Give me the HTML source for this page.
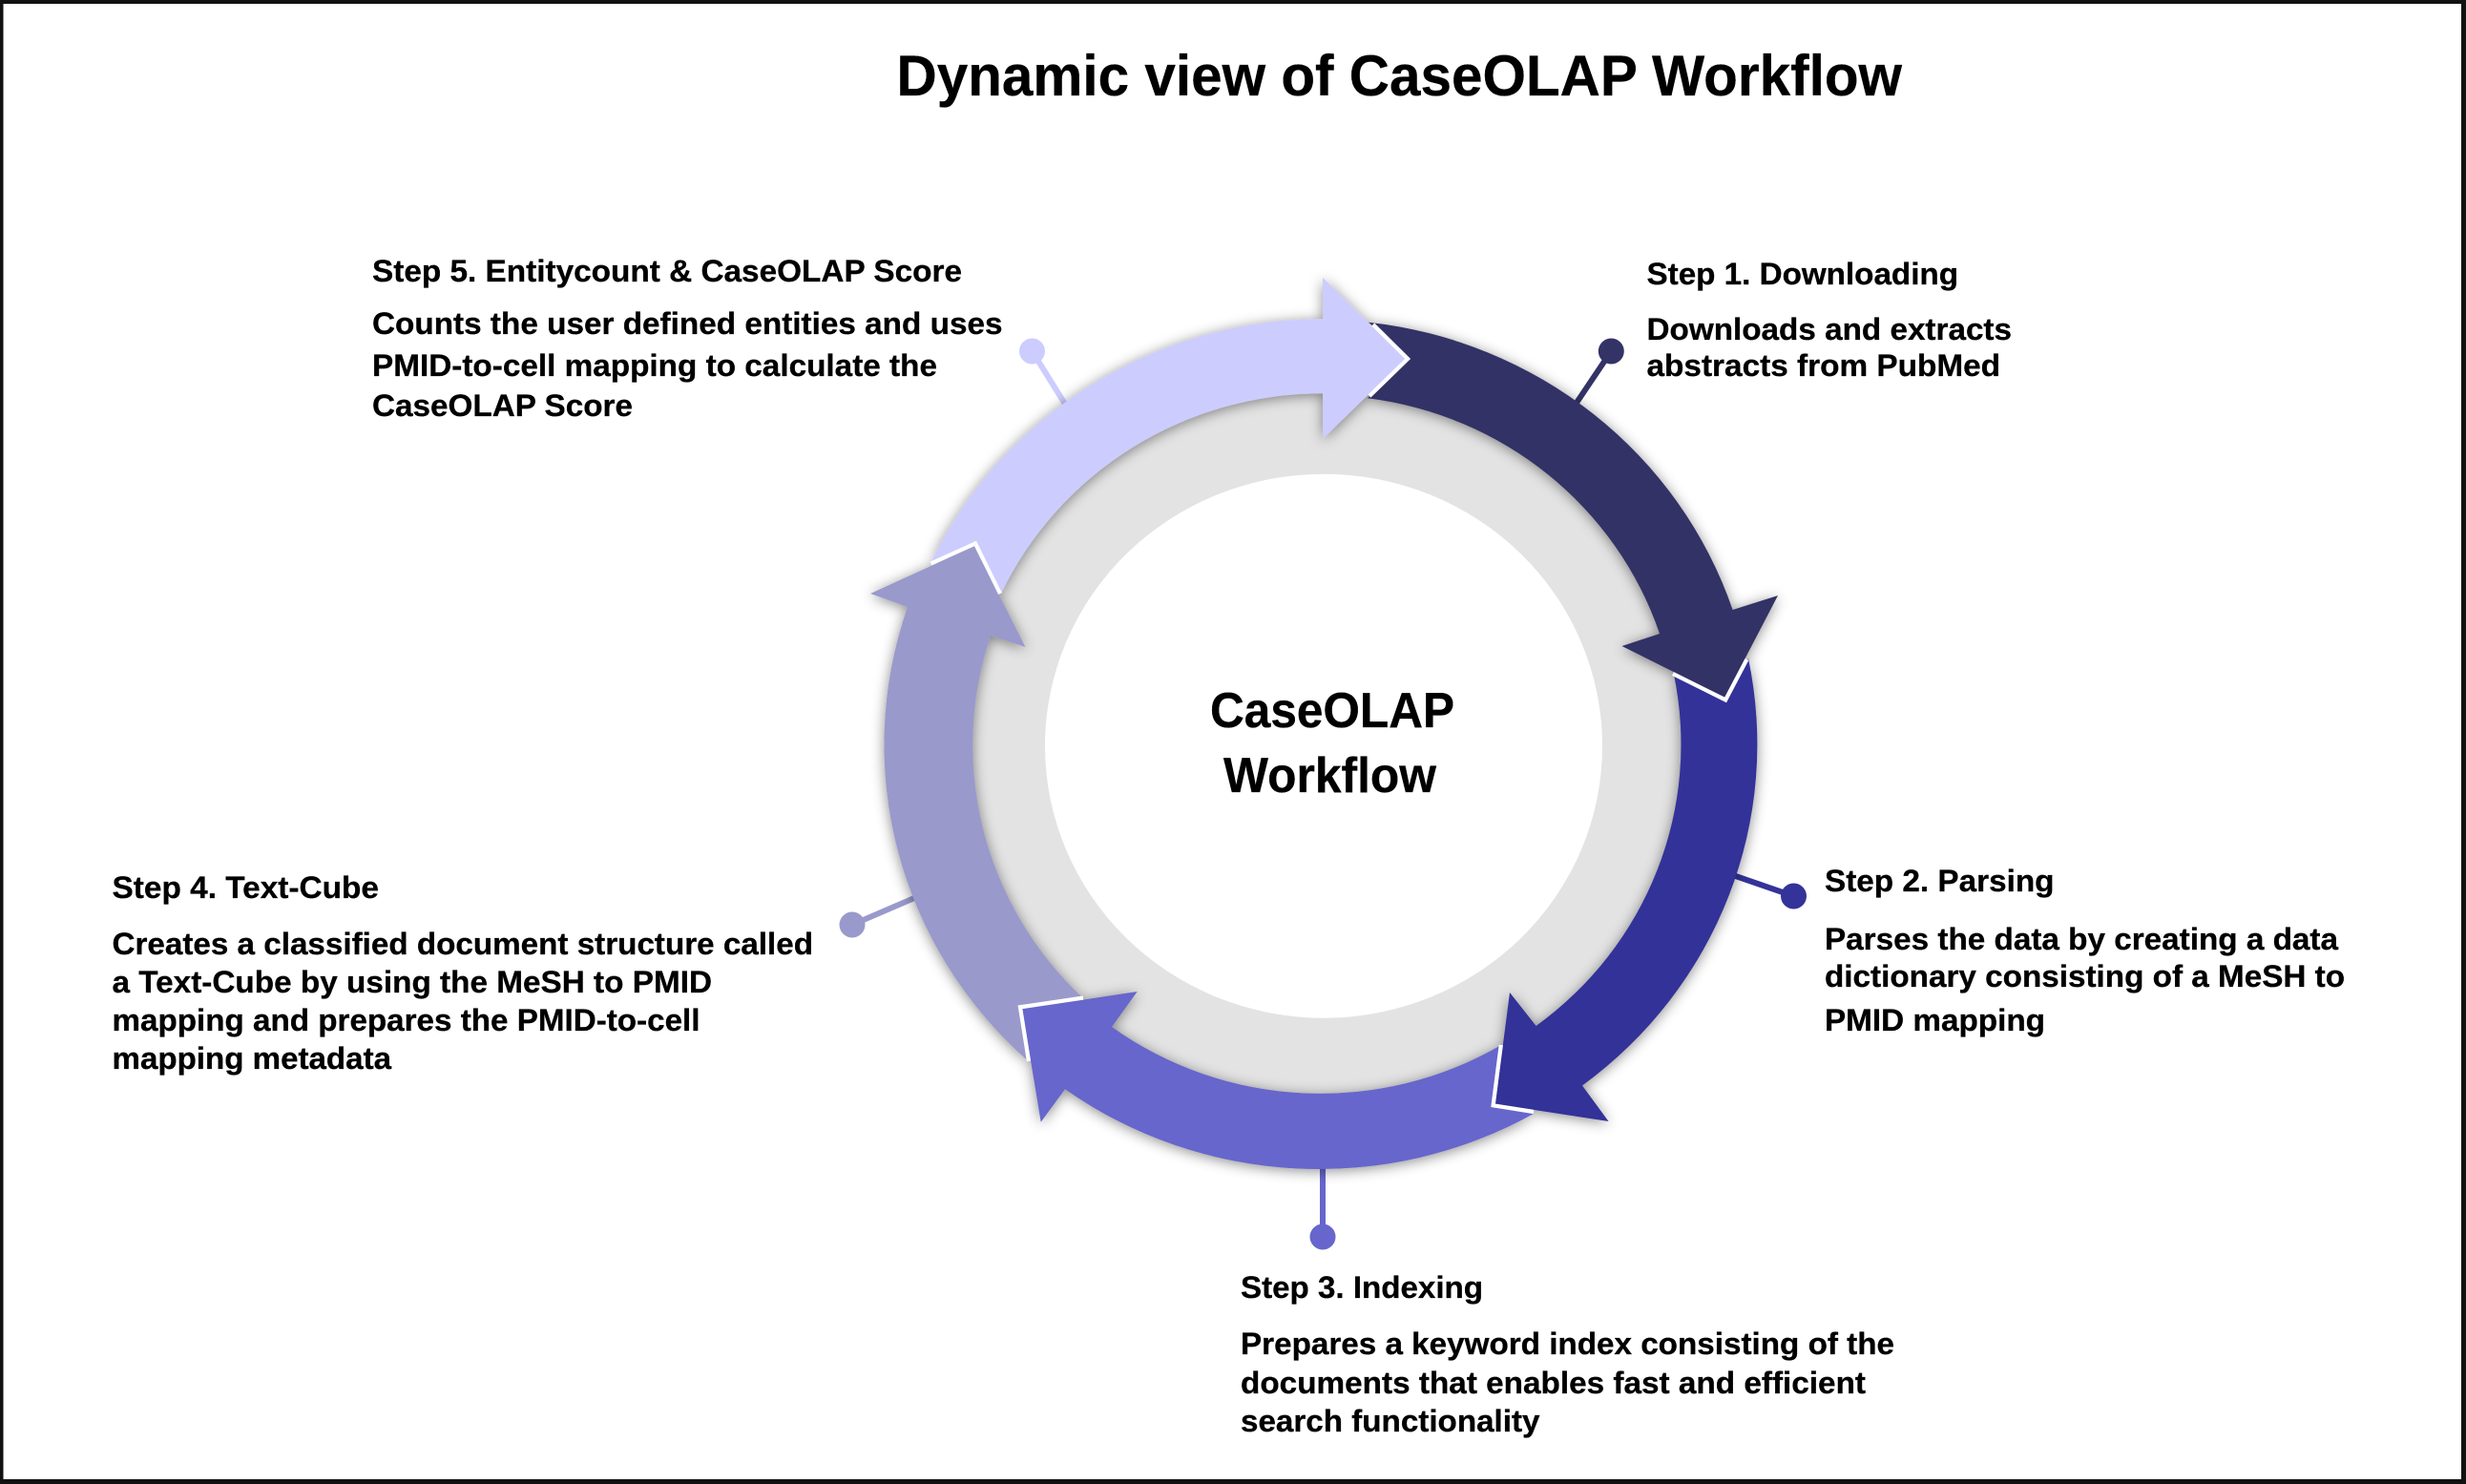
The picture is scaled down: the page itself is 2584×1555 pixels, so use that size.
<!DOCTYPE html>
<html><head><meta charset="utf-8"><title>Dynamic view of CaseOLAP Workflow</title>
<style>
html,body{margin:0;padding:0;background:#fff;width:2584px;height:1555px;overflow:hidden}
svg{display:block}
text{font-family:"Liberation Sans",Arial,sans-serif;font-weight:bold;fill:#000;font-size:32px;stroke:#000;stroke-width:.3px}
.t{font-size:60px}.c{font-size:52px}
</style></head><body>
<svg width="2584" height="1555" viewBox="0 0 2584 1555" xmlns="http://www.w3.org/2000/svg">
<defs><filter id="s" x="-10%" y="-10%" width="120%" height="120%"><feDropShadow dx="0" dy="2" stdDeviation="7" flood-color="#000" flood-opacity=".45"/></filter></defs>
<rect width="2584" height="1555" fill="#fff"/>
<path fill="#111" fill-rule="evenodd" d="M0 0H2584V1555H0ZM3.5 4V1550H2579V4Z"/>
<path fill="#e3e3e3" fill-rule="evenodd" d="M976 780a411 403 0 1 0 822 0a411 403 0 1 0 -822 0ZM1095 781.7a292 285 0 1 0 584 0a292 285 0 1 0 -584 0Z"/>
<g stroke-width="6">
<line x1="1081.5" y1="368" x2="1117" y2="425" stroke="#ccccff"/><circle cx="1081.5" cy="368" r="13.5" fill="#ccccff"/>
<line x1="1688.3" y1="368" x2="1650" y2="425" stroke="#333366"/><circle cx="1688.3" cy="368" r="13.5" fill="#333366"/>
<line x1="1810" y1="915" x2="1879.5" y2="939" stroke="#333399"/><circle cx="1879.5" cy="939" r="13.5" fill="#333399"/>
<line x1="1386" y1="1220" x2="1386" y2="1296" stroke="#6666cc"/><circle cx="1386" cy="1296" r="13.5" fill="#6666cc"/>
<line x1="965" y1="938" x2="893" y2="969" stroke="#9999cc"/><circle cx="893" cy="969" r="13.5" fill="#9999cc"/>
</g>
<g filter="url(#s)">
<path fill="#333366" d="M1434 337.7A456 446 0 0 1 1815.6 639L1863 624L1807.3 730.8L1699.5 677L1739 664A372 366 0 0 0 1433 417.3L1477.7 376Z"/>
<path fill="#333399" d="M1832 690A456 446 0 0 1 1658 1137.5L1685.5 1175L1566.8 1156.7L1582 1040L1609.6 1075A372 366 0 0 0 1754 707L1809 736Z"/>
<path fill="#6666cc" d="M1607 1167A456 446 0 0 1 1116 1141.3L1090.7 1175.7L1071 1057.3L1191.7 1039L1165 1076A372 366 0 0 0 1573 1095L1562.4 1160Z"/>
<path fill="#9999cc" d="M1077.5 1112A456 446 0 0 1 951 636L912 622L1021 572.2L1074.5 678L1038 666A372 366 0 0 0 1135 1046L1066.7 1053.3Z"/>
<path fill="#ccccff" d="M976 588A456 446 0 0 1 1386 334L1386 290.7L1472.3 376L1386 460L1386 412.3A372 366 0 0 0 1049 622L1023 567Z"/>
</g>
<g fill="none" stroke="#fff" stroke-width="4.2">
<polyline points="1438.8,340 1475.1,376 1435,415"/>
<polyline points="1830.4,691 1808.1,733.4 1753,706"/>
<polyline points="1607,1165 1564.6,1158.3 1572.8,1095"/>
<polyline points="1078,1112 1069,1055.3 1135,1045.6"/>
<polyline points="975.5,590.5 1022,569.5 1048,622"/>
</g>
<text class="t" x="939.5" y="100" textLength="1053.5" lengthAdjust="spacingAndGlyphs">Dynamic view of CaseOLAP Workflow</text>
<text class="c" x="1268" y="762" textLength="256" lengthAdjust="spacingAndGlyphs">CaseOLAP</text>
<text class="c" x="1282" y="830" textLength="223" lengthAdjust="spacingAndGlyphs">Workflow</text>

<text x="390" y="295" textLength="618" lengthAdjust="spacingAndGlyphs">Step 5. Entitycount &amp; CaseOLAP Score</text>
<text x="390" y="350" textLength="660.5" lengthAdjust="spacingAndGlyphs">Counts the user defined entities and uses</text>
<text x="390" y="394" textLength="592" lengthAdjust="spacingAndGlyphs">PMID-to-cell mapping to calculate the</text>
<text x="390" y="436" textLength="273" lengthAdjust="spacingAndGlyphs">CaseOLAP Score</text>

<text x="1725.5" y="298" textLength="326.5" lengthAdjust="spacingAndGlyphs">Step 1. Downloading</text>
<text x="1725.5" y="356" textLength="382.5" lengthAdjust="spacingAndGlyphs">Downloads and extracts</text>
<text x="1725.5" y="394" textLength="370.5" lengthAdjust="spacingAndGlyphs">abstracts from PubMed</text>

<text x="1912" y="934" textLength="240.5" lengthAdjust="spacingAndGlyphs">Step 2. Parsing</text>
<text x="1912" y="995" textLength="538" lengthAdjust="spacingAndGlyphs">Parses the data by creating a data</text>
<text x="1912" y="1034" textLength="545" lengthAdjust="spacingAndGlyphs">dictionary consisting of a MeSH to</text>
<text x="1912" y="1080" textLength="231" lengthAdjust="spacingAndGlyphs">PMID mapping</text>

<text x="1300" y="1360" textLength="254" lengthAdjust="spacingAndGlyphs">Step 3. Indexing</text>
<text x="1300" y="1419" textLength="685" lengthAdjust="spacingAndGlyphs">Prepares a keyword index consisting of the</text>
<text x="1300" y="1460" textLength="655" lengthAdjust="spacingAndGlyphs">documents that enables fast and efficient</text>
<text x="1300" y="1500" textLength="313.5" lengthAdjust="spacingAndGlyphs">search functionality</text>

<text x="117.5" y="941" textLength="279.5" lengthAdjust="spacingAndGlyphs">Step 4. Text-Cube</text>
<text x="117.5" y="1000" textLength="734.5" lengthAdjust="spacingAndGlyphs">Creates a classified document structure called</text>
<text x="117.5" y="1040" textLength="628.5" lengthAdjust="spacingAndGlyphs">a Text-Cube by using the MeSH to PMID</text>
<text x="117.5" y="1080" textLength="616" lengthAdjust="spacingAndGlyphs">mapping and prepares the PMID-to-cell</text>
<text x="117.5" y="1120" textLength="292.5" lengthAdjust="spacingAndGlyphs">mapping metadata</text>
</svg>
</body></html>
